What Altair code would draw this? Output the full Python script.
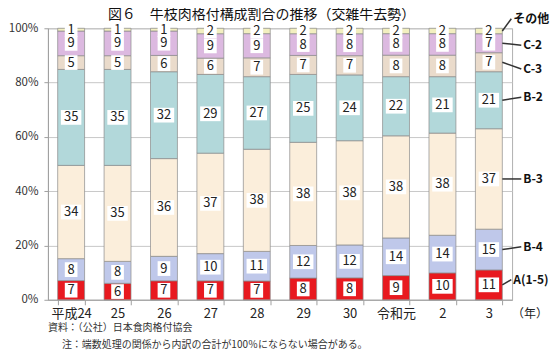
import altair as alt
import pandas as pd

years = ["平成24", "25", "26", "27", "28", "29", "30", "令和元", "2", "3"]
grades = ["A(1-5)", "B-4", "B-3", "B-2", "C-3", "C-2", "その他"]
A = [7, 6, 7, 7, 7, 8, 8, 9, 10, 11]
B4 = [8, 8, 9, 10, 11, 12, 12, 14, 14, 15]
B3 = [34, 35, 36, 37, 38, 38, 38, 38, 38, 37]
B2 = [35, 35, 32, 29, 27, 25, 24, 22, 21, 21]
C3 = [5, 5, 6, 6, 7, 7, 7, 8, 8, 7]
C2 = [9, 9, 9, 9, 9, 8, 8, 8, 8, 7]
other = [1, 1, 1, 2, 2, 2, 2, 2, 2, 2]
series = [A, B4, B3, B2, C3, C2, other]
colors = ["#e8191f", "#bfc8ea", "#fbeedb", "#b2d8da", "#eadbcb", "#dcb9e0", "#f3efc0"]
# annotation label heights (share of 100%) for the right-hand grade names
label_y = [0.074, 0.195, 0.445, 0.746, 0.85, 0.9375, 1.035]
short_leader = ["A(1-5)", "その他"]

title = "図６　牛枝肉格付構成割合の推移（交雑牛去勢）"
note1 = "資料：（公社）日本食肉格付協会"
note2 = "注：端数処理の関係から内訳の合計が100％にならない場合がある。"
unit = "（年）"

FONT = "Noto Sans CJK JP"
W, H = 465, 272
P_IN, P_OUT = 0.42, 0.21

rows = []
for i, y in enumerate(years):
    vals = [s[i] for s in series]
    total = sum(vals)
    cum = 0
    for g, (gname, v) in enumerate(zip(grades, vals)):
        rows.append({"year": y, "grade": gname, "ord": g, "value": v,
                     "mid": (cum + v / 2) / total,
                     "nd": str(len(str(v)))})
        cum += v
df = pd.DataFrame(rows)

# right edge of the last bar in pixels, derived from the band scale settings
n = len(years)
step = W / (n - P_IN + 2 * P_OUT)
bw = step * (1 - P_IN)
bar_right = P_OUT * step + (n - 1) * step + bw

last = df[df["year"] == years[-1]].copy()
last["ytext"] = label_y
last["short"] = last["grade"].isin(short_leader)
last["x1"] = bar_right + last["short"].map({True: 9, False: 19})
last["xt"] = last["x1"] + 2

lead_rows = []
for _, r in last.iterrows():
    lead_rows.append({"grade": r["grade"], "k": 0, "px": float(bar_right), "py": float(r["mid"])})
    lead_rows.append({"grade": r["grade"], "k": 1, "px": float(r["x1"]), "py": float(r["ytext"])})
lead = pd.DataFrame(lead_rows)

xenc = alt.X("year:N", sort=years,
             scale=alt.Scale(paddingInner=P_IN, paddingOuter=P_OUT),
             axis=alt.Axis(title=None, labelAngle=0, tickBand="extent", tickSize=5,
                           labelPadding=3, labelFontSize=13, labelColor="#222",
                           domainColor="#a0a0a0", tickColor="#a0a0a0"))
xsimple = alt.X("year:N", sort=years)
yscale = alt.Scale(domain=[0, 1], nice=False)

bars = alt.Chart(df).mark_bar(stroke="#8a8a8a", strokeWidth=0.7).encode(
    x=xenc,
    y=alt.Y("value:Q", stack="normalize", scale=yscale,
            axis=alt.Axis(title=None, format=".0%", values=[0, 0.2, 0.4, 0.6, 0.8, 1.0],
                          tickSize=4, labelPadding=6, labelFontSize=11.5, labelColor="#333",
                          gridColor="#c8c8c8", domainColor="#a0a0a0", tickColor="#a0a0a0")),
    color=alt.Color("grade:N", scale=alt.Scale(domain=grades, range=colors), legend=None),
    order=alt.Order("ord:Q"),
)

p1 = "M-0.62,-0.72 L0.62,-0.72 L0.62,0.72 L-0.62,0.72 Z"
p2 = "M-1,-0.72 L1,-0.72 L1,0.72 L-1,0.72 Z"
boxes = alt.Chart(df).mark_point(filled=True, color="white", opacity=1, size=420).encode(
    x=xsimple,
    y=alt.Y("mid:Q", scale=yscale),
    shape=alt.Shape("nd:N", scale=alt.Scale(domain=["1", "2"], range=[p1, p2]), legend=None),
)

texts = alt.Chart(df).mark_text(font=FONT, fontSize=13, color="#222", baseline="middle").encode(
    x=xsimple,
    y=alt.Y("mid:Q", scale=yscale),
    text="value:Q",
)

main = alt.layer(bars, boxes, texts)

pix = alt.Scale(domain=[0, W], range=[0, W], nice=False, zero=False)
leaders = alt.Chart(lead).mark_line(stroke="#333", strokeWidth=1.5).encode(
    x=alt.X("px:Q", scale=pix, axis=None),
    y=alt.Y("py:Q", scale=yscale),
    detail="grade:N",
    order="k:Q")
labels = alt.Chart(last).mark_text(font=FONT, fontSize=12, fontWeight="bold", color="#111",
                                   align="left", baseline="middle").encode(
    x=alt.X("xt:Q", scale=pix, axis=None), y=alt.Y("ytext:Q", scale=yscale), text="grade:N")
ann = alt.layer(leaders, labels)

title_t = alt.Chart(pd.DataFrame({"t": [title]})).mark_text(
    font=FONT, fontSize=14, color="#111", align="center", baseline="middle").encode(
    x=alt.value(214), y=alt.value(-13), text="t:N")
unit_t = alt.Chart(pd.DataFrame({"t": [unit]})).mark_text(
    font=FONT, fontSize=12, color="#222", align="left", baseline="middle").encode(
    x=alt.value(W), y=alt.value(H + 14), text="t:N")
n1 = alt.Chart(pd.DataFrame({"t": [note1]})).mark_text(
    font=FONT, fontSize=10, color="#333", align="left", baseline="middle").encode(
    x=alt.value(0), y=alt.value(H + 28), text="t:N")
n2 = alt.Chart(pd.DataFrame({"t": [note2]})).mark_text(
    font=FONT, fontSize=10, color="#333", align="left", baseline="middle").encode(
    x=alt.value(14), y=alt.value(H + 45), text="t:N")

chart = alt.layer(main, ann, title_t, unit_t, n1, n2).resolve_scale(x="independent").properties(
    width=W, height=H,
    padding={"left": 0, "top": 0, "right": 0, "bottom": 0},
).configure_view(stroke="#b0b0b0").configure_axis(labelFont=FONT)

chart.save("out.html", embed_options={"renderer": "svg", "actions": False})
